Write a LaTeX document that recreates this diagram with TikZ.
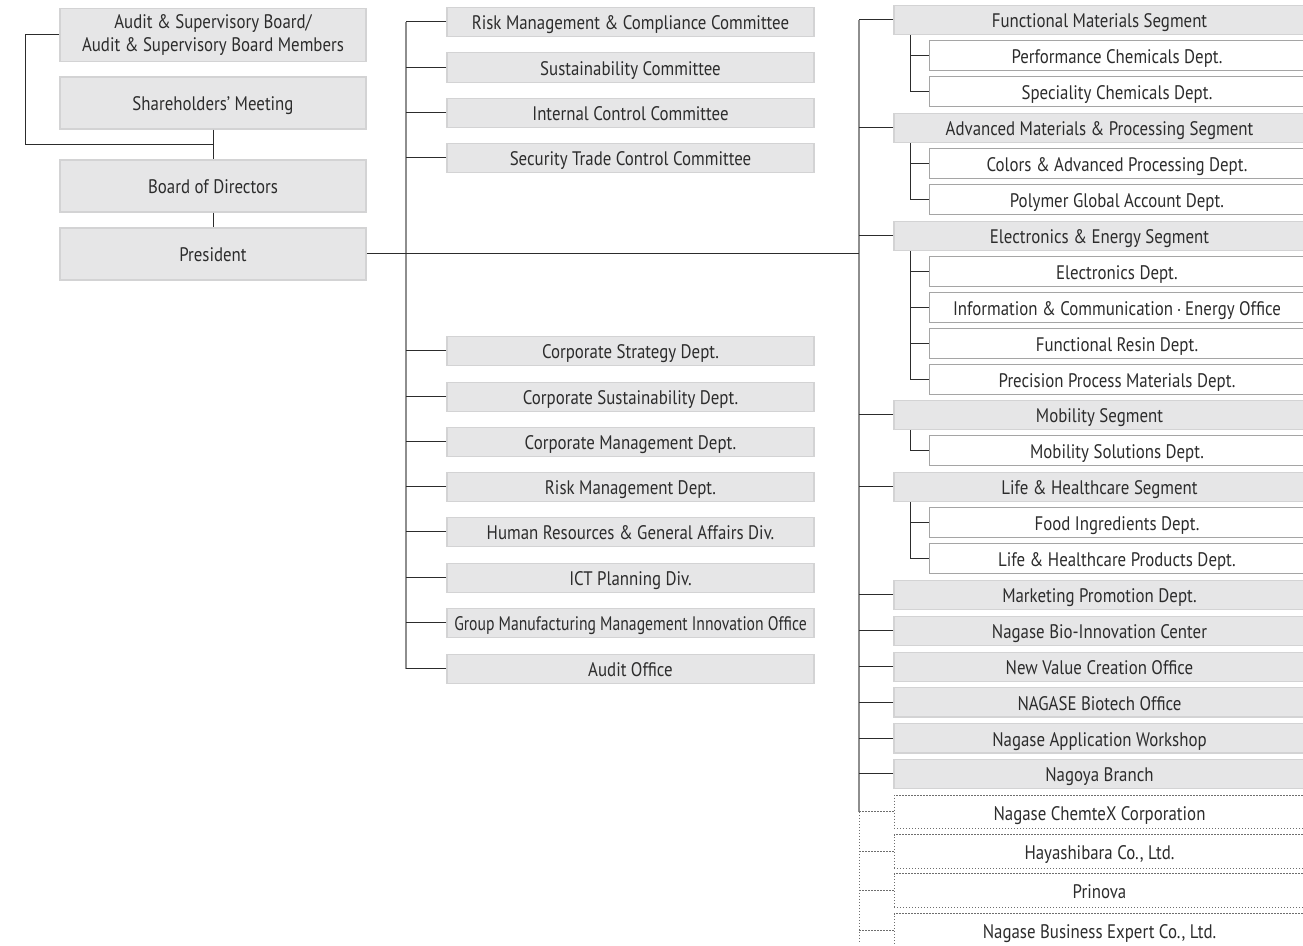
\documentclass[tikz,border=0pt]{standalone}
\usepackage{fontspec}
\setmainfont[FakeStretch=0.86]{PT Sans}
\usetikzlibrary{positioning}
\definecolor{boxgray}{HTML}{E6E6E7}
\definecolor{edgegray}{HTML}{D3D3D4}
\definecolor{linegray}{HTML}{8E8E8E}
\definecolor{dotgray}{HTML}{6E6E6E}
\definecolor{ink}{HTML}{2C2C2C}
\newcommand\orgfont{\fontsize{9.8}{11.4}\selectfont}
\tikzset{
  unit/.style={rectangle,inner sep=0pt,font=\orgfont,text=ink,align=center},
  oneline/.style={text height=10.2pt,text depth=2.2pt},
  mainbox/.style={unit,fill=boxgray,draw=edgegray,line width=0.6pt,
                  minimum width=153pt,minimum height=26pt},
  midbox/.style={unit,oneline,fill=boxgray,draw=edgegray,line width=0.6pt,
                 minimum width=183.5pt,minimum height=14.8pt},
  segbox/.style={unit,oneline,fill=boxgray,draw=edgegray,line width=0.6pt,
                 minimum width=205.5pt,minimum height=14.6pt},
  deptbox/.style={unit,oneline,fill=white,draw=linegray!80,line width=0.5pt,
                  minimum width=188pt,minimum height=15pt},
  groupbox/.style={unit,oneline,fill=white,draw=dotgray,line width=0.5pt,
                   dash pattern=on 0.7pt off 0.8pt,
                   minimum width=205.5pt,minimum height=16.8pt},
  link/.style={draw=ink,line width=0.5pt},
  trunk/.style={draw=linegray,line width=0.8pt},
  dotlink/.style={draw=dotgray,line width=0.5pt,dash pattern=on 0.7pt off 0.8pt}
}
\begin{document}
\begin{tikzpicture}[x=0.5pt,y=-0.5pt]
  \useasboundingbox (0,0) rectangle (1303,946);

  % governance column
  \node[mainbox,minimum height=26.5pt] (audit) at (213,35)
    {Audit \& Supervisory Board/\\Audit \& Supervisory Board Members};
  \node[mainbox,oneline] (share) at (213,103) {Shareholders' Meeting};
  \node[mainbox,oneline] (board) at (213,186) {Board of Directors};
  \node[mainbox,oneline] (pres) at (213,254) {President};

  % committees and corporate departments
  \node[midbox] (rmc) at (630.5,22) {Risk Management \& Compliance Committee};
  \node[midbox] (susc) at (630.5,67.5) {Sustainability Committee};
  \node[midbox] (icc) at (630.5,113) {Internal Control Committee};
  \node[midbox] (stc) at (630.5,158) {Security Trade Control Committee};
  \node[midbox] (csd) at (630.5,351) {Corporate Strategy Dept.};
  \node[midbox] (csus) at (630.5,397) {Corporate Sustainability Dept.};
  \node[midbox] (cmd) at (630.5,442) {Corporate Management Dept.};
  \node[midbox] (rmd) at (630.5,487) {Risk Management Dept.};
  \node[midbox] (hrd) at (630.5,532) {Human Resources \& General Affairs Div.};
  \node[midbox] (ictd) at (630.5,578) {ICT Planning Div.};
  \node[midbox] (gmmi) at (630.5,623)
    {\scalebox{0.93}[1]{Group Manufacturing Management Innovation Office}};
  \node[midbox] (aoff) at (630.5,669) {Audit Office};

  % segments and departments
  \node[segbox] (fms) at (1099.5,20) {Functional Materials Segment};
  \node[deptbox] (pcd) at (1117,56) {Performance Chemicals Dept.};
  \node[deptbox] (scd) at (1117,92) {Speciality Chemicals Dept.};
  \node[segbox] (amps) at (1099.5,128) {Advanced Materials \& Processing Segment};
  \node[deptbox] (capd) at (1117,164) {Colors \& Advanced Processing Dept.};
  \node[deptbox] (pgad) at (1117,200) {Polymer Global Account Dept.};
  \node[segbox] (ees) at (1099.5,236) {Electronics \& Energy Segment};
  \node[deptbox] (eld) at (1117,271.5) {Electronics Dept.};
  \node[deptbox] (iceo) at (1117,307.5) {Information \& Communication\,$\cdot$\,Energy Office};
  \node[deptbox] (frd) at (1117,343.5) {Functional Resin Dept.};
  \node[deptbox] (ppmd) at (1117,379.5) {Precision Process Materials Dept.};
  \node[segbox] (mobs) at (1099.5,415) {Mobility Segment};
  \node[deptbox] (msd) at (1117,451) {Mobility Solutions Dept.};
  \node[segbox] (lhs) at (1099.5,487) {Life \& Healthcare Segment};
  \node[deptbox] (fid) at (1117,523) {Food Ingredients Dept.};
  \node[deptbox] (lhpd) at (1117,559) {Life \& Healthcare Products Dept.};
  \node[segbox] (mpd) at (1099.5,595) {Marketing Promotion Dept.};
  \node[segbox] (nbic) at (1099.5,631) {Nagase Bio-Innovation Center};
  \node[segbox] (nvco) at (1099.5,667) {New Value Creation Office};
  \node[segbox] (nbo) at (1099.5,702.5) {NAGASE Biotech Office};
  \node[segbox] (naw) at (1099.5,738.5) {Nagase Application Workshop};
  \node[segbox] (ngb) at (1099.5,774) {Nagoya Branch};
  \node[groupbox] (ncx) at (1099.5,812) {Nagase ChemteX Corporation};
  \node[groupbox] (hay) at (1099.5,851.5) {Hayashibara Co., Ltd.};
  \node[groupbox] (prn) at (1099.5,890.5) {Prinova};
  \node[groupbox] (nbe) at (1099.5,930.5) {Nagase Business Expert Co., Ltd.};

  \coordinate (lx) at (25,0);
  \coordinate (jn) at (213,145);
  \coordinate (mx) at (406,0);
  \coordinate (rx) at (859,0);
  \coordinate (sx) at (910,0);
  \coordinate (rend) at (859,942);

  % governance links
  \draw[link] (audit.west) -- (audit.west -| lx) |- (jn);
  \draw[link] (share) -- (board);
  \draw[link] (board) -- (pres);

  % trunks
  \draw[trunk] (mx |- rmc) -- (mx |- aoff);
  \draw[trunk] (rx |- fms) -- (rx |- ncx);
  \draw[dotlink] (rx |- ncx) -- (rend);
  \draw[link] (pres.east) -- (rx |- pres);

  \foreach \n in {rmc,susc,icc,stc,csd,csus,cmd,rmd,hrd,ictd,gmmi,aoff}
    \draw[link] (\n.west) -- (\n.west -| mx);
  \foreach \n in {fms,amps,ees,mobs,lhs,mpd,nbic,nvco,nbo,naw,ngb}
    \draw[link] (\n.west) -- (\n.west -| rx);
  \foreach \n in {ncx,hay,prn,nbe}
    \draw[dotlink] (\n.west) -- (\n.west -| rx);

  % department links under each segment
  \draw[link] (fms.south -| sx) |- (scd.west);
  \draw[link] (pcd.west) -- (pcd.west -| sx);
  \draw[link] (amps.south -| sx) |- (pgad.west);
  \draw[link] (capd.west) -- (capd.west -| sx);
  \draw[link] (ees.south -| sx) |- (ppmd.west);
  \foreach \n in {eld,iceo,frd}
    \draw[link] (\n.west) -- (\n.west -| sx);
  \draw[link] (mobs.south -| sx) |- (msd.west);
  \draw[link] (lhs.south -| sx) |- (lhpd.west);
  \draw[link] (fid.west) -- (fid.west -| sx);
\end{tikzpicture}
\end{document}
